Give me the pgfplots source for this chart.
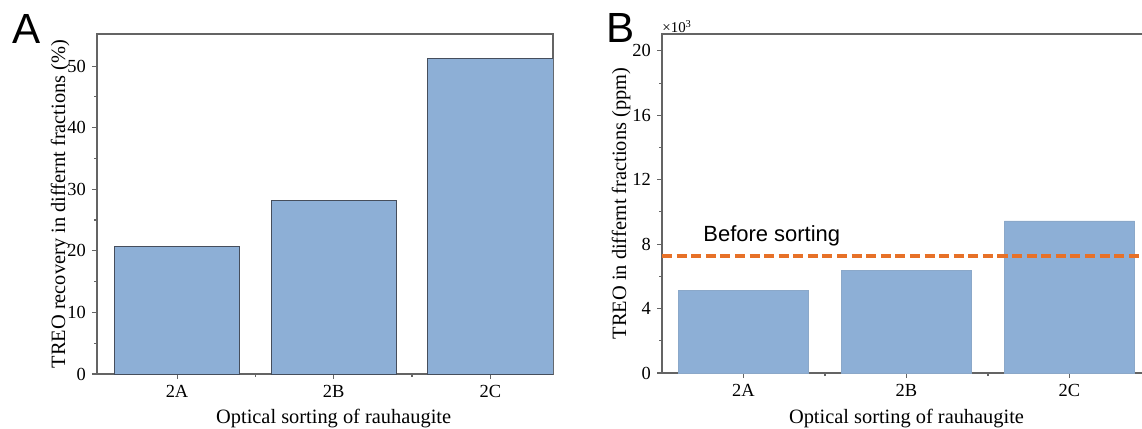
\documentclass[border=0pt]{standalone}
\usepackage{fontspec}
\setmainfont{Liberation Serif}
\newfontfamily\arial{Liberation Sans}
\usepackage{pgfplots}
\pgfplotsset{compat=1.18}
\definecolor{barblue}{RGB}{141,175,214}
\definecolor{edgegray}{RGB}{70,78,92}
\definecolor{axgray}{RGB}{100,100,100}
\definecolor{dashorange}{RGB}{231,113,40}
\newcommand{\labfont}{\fontsize{11.6}{14}\selectfont}
\pgfplotsset{
  panel/.style={
    scale only axis,
    axis line style={axgray, line width=0.6pt},
    tick style={axgray, line width=0.6pt},
    major tick length=0.1cm, minor tick length=0.06cm,
    tick align=outside, tick pos=left,
    xtick={1,2,3}, xticklabels={2A,2B,2C}, minor xtick={1.5,2.5},
    minor y tick num=1,
    tick label style={font=\fontsize{10.5}{12}\selectfont},
    /pgf/number format/assume math mode=true,
    xlabel={Optical sorting of rauhaugite},
  },
}

\begin{document}
\begin{tikzpicture}
\useasboundingbox (0,0) rectangle (22.84,8.56);

% panel A
\begin{axis}[panel,
  at={(1.94cm,1.08cm)}, anchor=south west,
  width=9.12cm, height=6.8cm,
  xmin=0.489, xmax=3.4, ymin=0, ymax=55.2,
  ytick={0,10,20,30,40,50},
  ylabel={TREO recovery in differnt fractions (\%)},
  every axis y label/.style={at={(axis description cs:-0.081,0.5)}, rotate=90, anchor=center, font=\labfont},
  every axis x label/.style={at={(axis description cs:0.519,0)}, anchor=base, yshift=-0.98cm, font=\labfont},
]
\addplot[ybar, bar width=0.8, bar shift=0pt, fill=barblue, draw=edgegray, line width=0.5pt]
  coordinates {(1,20.7) (2,28.1) (3,51.3)};
\end{axis}

% panel B
\begin{axis}[panel,
  at={(13.24cm,1.10cm)}, anchor=south west,
  width=9.78cm, height=6.78cm,
  xmin=0.5, xmax=3.5, ymin=0, ymax=21.05,
  ytick={0,4,8,12,16,20},
  ylabel={TREO in differnt fractions (ppm)},
  every axis y label/.style={at={(axis description cs:-0.0838,0.5)}, rotate=90, anchor=center, font=\labfont},
  every axis x label/.style={at={(axis description cs:0.5,0)}, anchor=base, yshift=-1.0cm, font=\labfont},
]
\addplot[ybar, bar width=0.8, bar shift=0pt, fill=barblue, draw=barblue!85!gray, line width=0.4pt]
  coordinates {(1,5.14) (2,6.38) (3,9.44)};
\addplot[dashorange, line width=2pt, dash pattern=on 5.7pt off 2.6pt, no marks]
  coordinates {(0.5,7.27) (3.5,7.27)};
\node[anchor=base west, inner sep=0pt, font=\arial\fontsize{12.5}{14}\selectfont] at (axis cs:0.752,8.14) {Before sorting};
\end{axis}

\node[anchor=base west, inner sep=0pt, font=\fontsize{8.5}{10}\selectfont] at (13.24,7.92) {×10\textsuperscript{3}};
\node[anchor=base west, inner sep=0pt, font=\arial\fontsize{24}{28}\selectfont] at (0.24,7.70) {A};
\node[anchor=base west, inner sep=0pt, font=\arial\fontsize{24}{28}\selectfont] at (12.12,7.72) {B};
\end{tikzpicture}
\end{document}
